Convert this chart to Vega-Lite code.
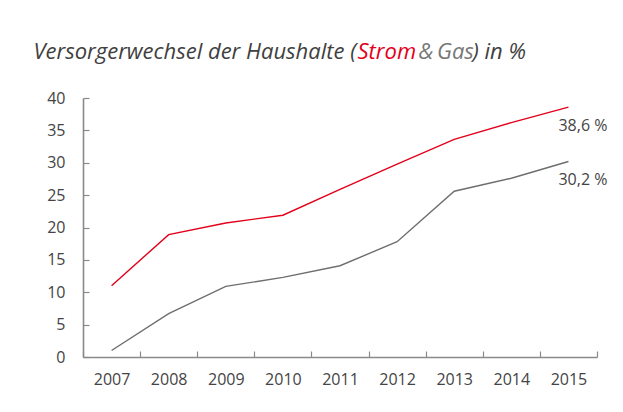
{
  "$schema": "https://vega.github.io/schema/vega-lite/v6.json",
  "width": 514,
  "height": 259,
  "autosize": "none",
  "padding": {"left": 83, "top": 98, "right": 26, "bottom": 55},
  "background": "white",
  "config": {"view": {"stroke": null}, "font": "Open Sans"},
  "data": {"values": [
    {"Jahr": "2007", "Typ": "Strom", "Wert": 11.0, "Label": ""},
    {"Jahr": "2008", "Typ": "Strom", "Wert": 18.9, "Label": ""},
    {"Jahr": "2009", "Typ": "Strom", "Wert": 20.7, "Label": ""},
    {"Jahr": "2010", "Typ": "Strom", "Wert": 21.9, "Label": ""},
    {"Jahr": "2011", "Typ": "Strom", "Wert": 25.9, "Label": ""},
    {"Jahr": "2012", "Typ": "Strom", "Wert": 29.8, "Label": ""},
    {"Jahr": "2013", "Typ": "Strom", "Wert": 33.6, "Label": ""},
    {"Jahr": "2014", "Typ": "Strom", "Wert": 36.2, "Label": ""},
    {"Jahr": "2015", "Typ": "Strom", "Wert": 38.6, "Label": "38,6 %"},
    {"Jahr": "2007", "Typ": "Gas", "Wert": 1.0, "Label": ""},
    {"Jahr": "2008", "Typ": "Gas", "Wert": 6.7, "Label": ""},
    {"Jahr": "2009", "Typ": "Gas", "Wert": 10.9, "Label": ""},
    {"Jahr": "2010", "Typ": "Gas", "Wert": 12.3, "Label": ""},
    {"Jahr": "2011", "Typ": "Gas", "Wert": 14.1, "Label": ""},
    {"Jahr": "2012", "Typ": "Gas", "Wert": 17.8, "Label": ""},
    {"Jahr": "2013", "Typ": "Gas", "Wert": 25.6, "Label": ""},
    {"Jahr": "2014", "Typ": "Gas", "Wert": 27.6, "Label": ""},
    {"Jahr": "2015", "Typ": "Gas", "Wert": 30.2, "Label": "30,2 %"}
  ]},
  "resolve": {"axis": {"x": "independent", "y": "independent"}},
  "layer": [
    {
      "mark": {"type": "line", "strokeWidth": 1.4},
      "encoding": {
        "x": {"field": "Jahr", "type": "ordinal", "bandPosition": 0.5,
          "scale": {"type": "band", "paddingInner": 0, "paddingOuter": 0},
          "axis": {"orient": "bottom", "tickBand": "extent", "tickSize": -6, "tickColor": "#8a8a8a", "tickWidth": 1.2,
            "domainColor": "#8a8a8a", "domainWidth": 1.6, "labelAngle": 0, "labelFontSize": 16, "labelColor": "#444444",
            "labelPadding": 20, "grid": false,
            "title": "Versorgerwechsel der Haushalte (", "titleX": -50, "titleY": -299, "titleAlign": "left",
            "titleAnchor": null, "titleBaseline": "alphabetic", "titleFontSize": 22, "titleFontStyle": "italic",
            "titleFontWeight": "normal", "titleColor": "#404040"}},
        "y": {"field": "Wert", "type": "quantitative",
          "scale": {"domain": [0, 40], "nice": false},
          "axis": {"orient": "left", "values": [0, 5, 10, 15, 20, 25, 30, 35, 40], "tickSize": -6, "tickColor": "#8a8a8a",
            "tickWidth": 1.2, "domainColor": "#8a8a8a", "domainWidth": 1.6, "labelFontSize": 16, "labelColor": "#444444",
            "labelPadding": 24, "grid": false,
            "title": "Strom", "titleX": 274, "titleY": -40, "titleAngle": 0, "titleAlign": "left",
            "titleBaseline": "alphabetic", "titleFontSize": 22, "titleFontStyle": "italic",
            "titleFontWeight": "normal", "titleColor": "#e2001a"}},
        "color": {"field": "Typ", "type": "nominal",
          "scale": {"domain": ["Strom", "Gas"], "range": ["#e2001a", "#6e6e6e"]}, "legend": null}
      }
    },
    {
      "transform": [{"filter": "datum.Label != ''"}],
      "mark": {"type": "text", "align": "left", "baseline": "middle", "dx": -10, "dy": 19, "fontSize": 16, "color": "#444444"},
      "encoding": {
        "x": {"field": "Jahr", "type": "ordinal", "bandPosition": 0.5,
          "axis": {"orient": "top", "domain": false, "ticks": false, "labels": false, "grid": false,
            "title": ") in %", "titleX": 389, "titleY": -40, "titleAlign": "left", "titleAnchor": null,
            "titleBaseline": "alphabetic", "titleFontSize": 22, "titleFontStyle": "italic",
            "titleFontWeight": "normal", "titleColor": "#404040"}},
        "y": {"field": "Wert", "type": "quantitative",
          "axis": {"orient": "right", "domain": false, "ticks": false, "labels": false, "grid": false,
            "title": "&\u2009Gas", "titleX": -179, "titleY": -40, "titleAngle": 0, "titleAlign": "left",
            "titleBaseline": "alphabetic", "titleFontSize": 22, "titleFontStyle": "italic",
            "titleFontWeight": "normal", "titleColor": "#777777"}},
        "text": {"field": "Label"}
      }
    }
  ]
}
